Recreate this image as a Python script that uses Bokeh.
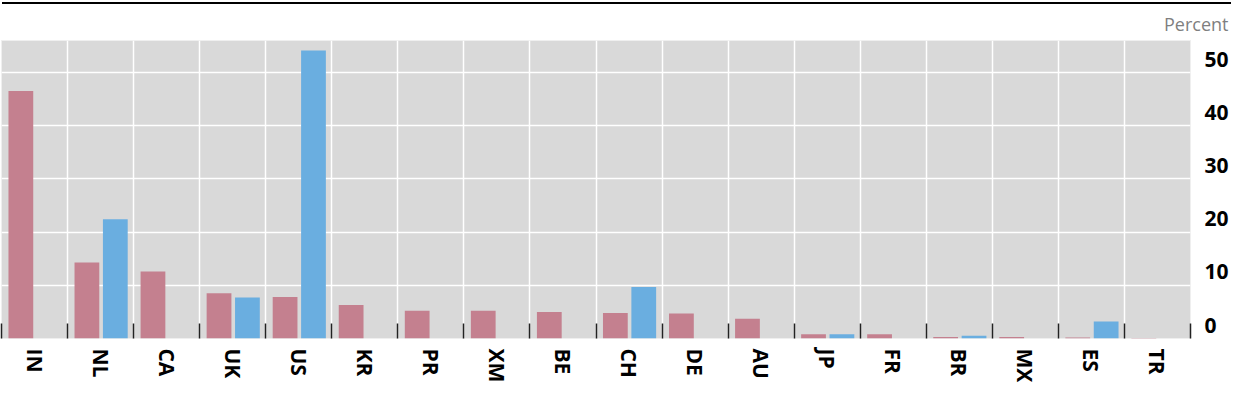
from bokeh.plotting import figure
from bokeh.models import (ColumnDataSource, FactorRange, Range1d, LinearAxis,
                          CategoricalAxis, FixedTicker, Legend, LegendItem, Title, Div)
from bokeh.layouts import column
from bokeh.transform import dodge
from bokeh.embed import file_html
from bokeh.resources import INLINE

countries = ["IN", "NL", "CA", "UK", "US", "KR", "PR", "XM", "BE", "CH",
             "DE", "AU", "JP", "FR", "BR", "MX", "ES", "TR"]
outstanding_loans = [46.5, 14.3, 12.6, 8.5, 7.8, 6.3, 5.2, 5.2, 5.0, 4.8,
                     4.7, 3.7, 0.8, 0.8, 0.3, 0.3, 0.2, 0.1]
underwriting = [0.0, 22.4, 0.0, 7.7, 54.1, 0.0, 0.0, 0.0, 0.0, 9.7,
                0.0, 0.0, 0.8, 0.0, 0.5, 0.0, 3.2, 0.0]
y_ticks = [0, 10, 20, 30, 40, 50]
y_max = 56

RED = "#c4808f"
BLUE = "#6aaee0"
FONT = "Open Sans"

source = ColumnDataSource(dict(country=countries, loans=outstanding_loans, uw=underwriting))

p = figure(x_range=FactorRange(*countries, range_padding=0), y_range=Range1d(0, y_max),
           width=1231, height=405, output_backend="svg", toolbar_location=None,
           x_axis_location=None, y_axis_location=None,
           min_border_left=1, min_border_right=40, min_border_top=33, min_border_bottom=71)
p.background_fill_color = "#d9d9d9"
p.border_fill_color = "white"
p.outline_line_color = "#efefef"

edges = list(range(len(countries) + 1))  # category boundaries in factor-range units
p.xgrid.ticker = FixedTicker(ticks=edges)
p.xgrid.grid_line_color = "white"
p.xgrid.grid_line_width = 1.5
p.ygrid.ticker = FixedTicker(ticks=y_ticks)
p.ygrid.grid_line_color = "white"
p.ygrid.grid_line_width = 1.5

# tick marks at category boundaries
edge_axis = LinearAxis(ticker=FixedTicker(ticks=edges),
                       major_tick_in=15, major_tick_out=0, major_tick_line_color="#222222",
                       major_tick_line_width=1.5, axis_line_color=None,
                       major_label_text_font_size="0px", major_label_standoff=0)
p.add_layout(edge_axis, "below")

cat_axis = CategoricalAxis(major_tick_in=0, major_tick_out=0, axis_line_color=None,
                           major_label_orientation="vertical", major_label_standoff=10,
                           major_label_text_font=FONT, major_label_text_font_size="21px",
                           major_label_text_font_style="bold", major_label_text_color="black")
p.add_layout(cat_axis, "below")

# right value axis, labels sitting just above their gridlines
shift = 2.5
p.extra_y_ranges = {"lab": Range1d(-shift, y_max - shift)}
y_axis = LinearAxis(y_range_name="lab", ticker=FixedTicker(ticks=y_ticks),
                    major_tick_in=0, major_tick_out=0, axis_line_color=None,
                    major_label_standoff=14, major_label_text_font=FONT,
                    major_label_text_font_size="21px", major_label_text_font_style="bold",
                    major_label_text_color="black")
p.add_layout(y_axis, "right")

r_loans = p.vbar(x=dodge("country", -0.207, range=p.x_range), top="loans", width=0.375,
                 source=source, fill_color=RED, line_color=None)
r_uw = p.vbar(x=dodge("country", 0.223, range=p.x_range), top="uw", width=0.375,
              source=source, fill_color=BLUE, line_color=None)

legend = Legend(items=[LegendItem(label="Share in underwriting", renderers=[r_uw]),
                       LegendItem(label="Share in outstanding loans", renderers=[r_loans])],
                orientation="horizontal", location=(22, -74), padding=0, margin=0,
                spacing=36, glyph_width=37, glyph_height=16, label_standoff=10,
                label_text_font=FONT, label_text_font_size="20px", label_text_color="black",
                border_line_color=None, background_fill_alpha=0)
p.add_layout(legend, "center")

p.title = Title(text="Percent", align="right", offset=-38, text_font=FONT,
                text_font_size="18px", text_font_style="normal", text_color="#7f7f7f")

rule = Div(text="", width=1229, height=2, margin=(2, 0, 0, 2),
           styles={"background-color": "black"})

layout = column(rule, p, spacing=0)
open("out.html", "w").write(file_html(layout, INLINE))
